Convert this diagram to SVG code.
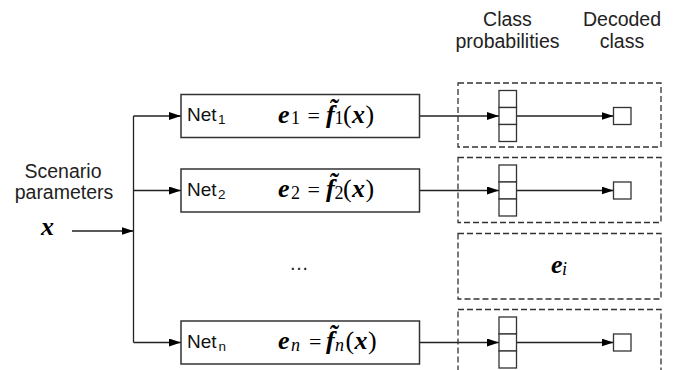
<svg xmlns="http://www.w3.org/2000/svg" width="688" height="370" viewBox="0 0 688 370">
  <style>
    .lbl { font-family: "Liberation Sans", Arial, sans-serif; font-size: 19.5px; fill: #222; }
    .net { font-family: "Liberation Sans", Arial, sans-serif; font-size: 19px; fill: #111; }
    .sub { font-size: 13.5px; }
    .m { font-family: "Liberation Serif", "Times New Roman", serif; font-size: 26px; fill: #000; }
    .mb { font-weight: bold; font-style: italic; }
    .eq { font-size: 22px; }
    .ms { font-size: 18px; }
    .msi { font-size: 18px; font-style: italic; }
    .box { fill: #fff; stroke: #333; stroke-width: 1.5; }
    .cell { fill: #fff; stroke: #333; stroke-width: 1.3; }
    .dash { fill: none; stroke: #333; stroke-width: 1.3; stroke-dasharray: 6 3; }
    .wire { fill: none; stroke: #222; stroke-width: 1.3; }
  </style>
  <defs>
    <marker id="arr" markerUnits="userSpaceOnUse" markerWidth="12" markerHeight="8" refX="12" refY="4" orient="auto">
      <path d="M0,0 L12,4 L0,8 z" fill="#000"/>
    </marker>
  </defs>

  <!-- column headings -->
  <g id="headings">
    <text class="lbl" x="507.5" y="26" text-anchor="middle">Class</text>
    <text class="lbl" x="507.5" y="48" text-anchor="middle">probabilities</text>
    <text class="lbl" x="622" y="26" text-anchor="middle">Decoded</text>
    <text class="lbl" x="622" y="48" text-anchor="middle">class</text>
  </g>

  <!-- input -->
  <g id="input">
    <text class="lbl" x="63" y="178" text-anchor="middle">Scenario</text>
    <text class="lbl" x="64" y="199" text-anchor="middle">parameters</text>
    <text class="m mb" x="41" y="235">x</text>
  </g>

  <!-- connectors -->
  <g id="connectors">
    <line class="wire" x1="72" y1="231" x2="133.5" y2="231" marker-end="url(#arr)"/>
    <line class="wire" x1="133.5" y1="116" x2="133.5" y2="342.5"/>
    <line class="wire" x1="133.5" y1="116" x2="181" y2="116" marker-end="url(#arr)"/>
    <line class="wire" x1="133.5" y1="190.5" x2="181" y2="190.5" marker-end="url(#arr)"/>
    <line class="wire" x1="133.5" y1="342.5" x2="181" y2="342.5" marker-end="url(#arr)"/>

    <line class="wire" x1="419.5" y1="116" x2="499" y2="116" marker-end="url(#arr)"/>
    <line class="wire" x1="516.5" y1="116" x2="613.5" y2="116" marker-end="url(#arr)"/>
    <line class="wire" x1="419.5" y1="190.5" x2="499" y2="190.5" marker-end="url(#arr)"/>
    <line class="wire" x1="516.5" y1="190.5" x2="613.5" y2="190.5" marker-end="url(#arr)"/>
    <line class="wire" x1="419.5" y1="342.5" x2="499" y2="342.5" marker-end="url(#arr)"/>
    <line class="wire" x1="516.5" y1="342.5" x2="613.5" y2="342.5" marker-end="url(#arr)"/>
  </g>

  <!-- networks -->
  <g id="net1">
    <rect class="box" x="181" y="94.5" width="238.5" height="43"/>
    <text class="net" x="187" y="121">Net<tspan class="sub" x="218" y="124">1</tspan></text>
    <text class="m" y="122.5"><tspan class="mb" x="278">e</tspan><tspan class="ms" x="291" y="124.3">1</tspan><tspan class="eq" x="307.5" y="122.5">=</tspan><tspan class="mb" x="326">f̃</tspan><tspan class="ms" x="334.5" y="124.3">1</tspan><tspan x="343" y="122.5">(</tspan><tspan class="mb" x="352">x</tspan><tspan x="365.5">)</tspan></text>
  </g>

  <g id="net2">
    <rect class="box" x="181" y="169" width="238.5" height="43"/>
    <text class="net" x="187" y="195.5">Net<tspan class="sub" x="218" y="198.5">2</tspan></text>
    <text class="m" y="197"><tspan class="mb" x="278">e</tspan><tspan class="ms" x="291" y="198.8">2</tspan><tspan class="eq" x="307.5" y="197">=</tspan><tspan class="mb" x="326">f̃</tspan><tspan class="ms" x="334.5" y="198.8">2</tspan><tspan x="343" y="197">(</tspan><tspan class="mb" x="352">x</tspan><tspan x="365.5">)</tspan></text>
  </g>

  <g id="netn">
    <rect class="box" x="181" y="321" width="238.5" height="43"/>
    <text class="net" x="187" y="347.5">Net<tspan class="sub" x="218.5" y="350.5">n</tspan></text>
    <text class="m" y="349"><tspan class="mb" x="278">e</tspan><tspan class="msi" x="291" y="350.5">n</tspan><tspan class="eq" x="309" y="349">=</tspan><tspan class="mb" x="326">f̃</tspan><tspan class="msi" x="335" y="350.5">n</tspan><tspan x="345.5" y="349">(</tspan><tspan class="mb" x="354.5">x</tspan><tspan x="368">)</tspan></text>
  </g>

  <g id="ellipsis">
    <text class="lbl" x="299" y="270" text-anchor="middle">…</text>
  </g>

  <!-- decoders -->
  <g id="decoder1">
    <rect class="dash" x="458" y="83" width="203" height="64"/>
    <rect class="cell" x="499" y="90.5" width="17.5" height="17"/>
    <rect class="cell" x="499" y="107.5" width="17.5" height="17"/>
    <rect class="cell" x="499" y="124.5" width="17.5" height="17"/>
    <rect class="cell" x="613.5" y="107.5" width="17.5" height="17"/>
  </g>

  <g id="decoder2">
    <rect class="dash" x="458" y="157.5" width="203" height="65"/>
    <rect class="cell" x="499" y="165" width="17.5" height="17"/>
    <rect class="cell" x="499" y="182" width="17.5" height="17"/>
    <rect class="cell" x="499" y="199" width="17.5" height="17"/>
    <rect class="cell" x="613.5" y="182" width="17.5" height="17"/>
  </g>

  <g id="decoderi">
    <rect class="dash" x="458" y="233.5" width="203" height="65.5"/>
    <text class="m" x="551" y="273"><tspan class="mb">e</tspan><tspan class="msi" x="562" y="275">i</tspan></text>
  </g>

  <g id="decodern">
    <rect class="dash" x="458" y="309.5" width="203" height="80"/>
    <rect class="cell" x="499" y="317" width="17.5" height="17"/>
    <rect class="cell" x="499" y="334" width="17.5" height="17"/>
    <rect class="cell" x="499" y="351" width="17.5" height="17"/>
    <rect class="cell" x="613.5" y="334" width="17.5" height="17"/>
  </g>
</svg>
